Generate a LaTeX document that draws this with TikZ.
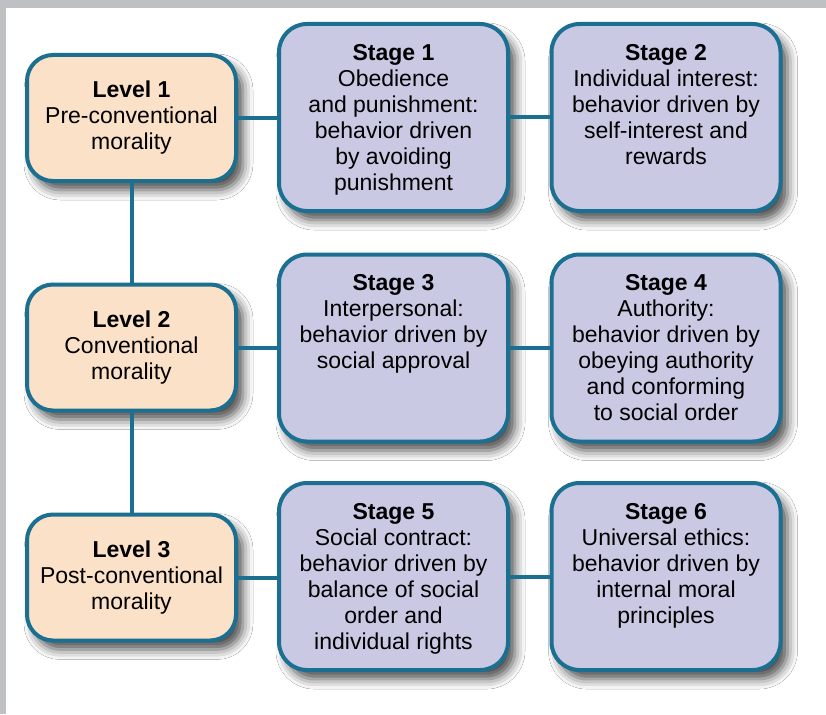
\documentclass[tikz,border=0pt]{standalone}
\usepackage{fontspec}
\setmainfont{Liberation Sans}
\usepackage{tikz}
\usetikzlibrary{positioning,shadows.blur}
\usepackage{xcolor}
\definecolor{edgeblue}{RGB}{27,112,146}
\definecolor{levelfill}{RGB}{251,225,200}
\definecolor{stagefill}{RGB}{201,201,228}
\definecolor{framegray}{RGB}{191,192,196}

\begin{document}
\begin{tikzpicture}[x=1pt,y=-1pt,
          every node/.style={font=\fontsize{23}{26}\selectfont},
          boxbase/.style={draw=edgeblue,line width=4pt,
            blur shadow={shadow xshift=7pt,shadow yshift=-9pt,shadow blur radius=10pt,shadow opacity=70}},
          levelbox/.style={boxbase,fill=levelfill,rounded corners=26pt,
            minimum width=209pt,minimum height=126pt,align=center,inner sep=0pt},
          stagebox/.style={boxbase,fill=stagefill,rounded corners=28pt,
            minimum width=229pt,minimum height=187pt,inner sep=0pt},
          stagetext/.style={align=center,inner sep=0pt},
          link/.style={edgeblue,line width=4pt},
        ]
        \useasboundingbox (0,0) rectangle (826,714);
        \fill[framegray] (0,0) rectangle (826,714);
        \fill[white] (6,8) rectangle (826,714);

        \node[levelbox] (lv1) at (131.5,118)   {\textbf{Level 1}\\Pre-conventional\\morality};
        \node[levelbox] (lv2) at (131.5,347.5) {\textbf{Level 2}\\Conventional\\morality};
        \node[levelbox] (lv3) at (131.5,577.5) {\textbf{Level 3}\\Post-conventional\\morality};

        \node[stagebox] (st1) at (393.5,117.5) {};
        \node[stagebox] (st2) at (666,117.5)   {};
        \node[stagebox] (st3) at (393.5,348)   {};
        \node[stagebox] (st4) at (666,348)     {};
        \node[stagebox] (st5) at (393.5,576.5) {};
        \node[stagebox] (st6) at (666,576.5)   {};

        \node[stagetext,below=22pt of st1.north] (st1t) {\textbf{Stage 1}\\Obedience\\and punishment:\\behavior driven\\by avoiding\\punishment};
        \node[stagetext,below=22pt of st2.north] (st2t) {\textbf{Stage 2}\\Individual interest:\\behavior driven by\\self-interest and\\rewards};
        \node[stagetext,below=22pt of st3.north] (st3t) {\textbf{Stage 3}\\Interpersonal:\\behavior driven by\\social approval};
        \node[stagetext,below=22pt of st4.north] (st4t) {\textbf{Stage 4}\\Authority:\\behavior driven by\\obeying authority\\and conforming\\to social order};
        \node[stagetext,below=22pt of st5.north] (st5t) {\textbf{Stage 5}\\Social contract:\\behavior driven by\\balance of social\\order and\\individual rights};
        \node[stagetext,below=22pt of st6.north] (st6t) {\textbf{Stage 6}\\Universal ethics:\\behavior driven by\\internal moral\\principles};

        \draw[link] (lv1) -- (lv2);
        \draw[link] (lv2) -- (lv3);
        \draw[link] (lv1.east) -- (lv1.east -| st1.west);
        \draw[link] (lv2.east) -- (lv2.east -| st3.west);
        \draw[link] (lv3.east) -- (lv3.east -| st5.west);
        \draw[link] (st1.east) -- (st1.east -| st2.west);
        \draw[link] (st3.east) -- (st3.east -| st4.west);
        \draw[link] (st5.east) -- (st5.east -| st6.west);
      \end{tikzpicture}
\end{document}
